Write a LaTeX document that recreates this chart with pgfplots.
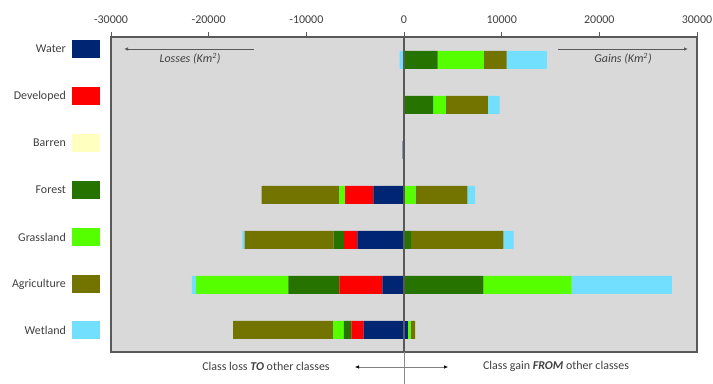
\documentclass[border=0pt]{standalone}
\usepackage{fontspec}
\setmainfont{Carlito}
\usepackage{pgfplots}
\pgfplotsset{compat=1.18}
\usetikzlibrary{arrows.meta}

\definecolor{cWater}{HTML}{002673}
\definecolor{cDeveloped}{HTML}{FF0000}
\definecolor{cBarren}{HTML}{FFFFC0}
\definecolor{cForest}{HTML}{267300}
\definecolor{cGrassland}{HTML}{55FF00}
\definecolor{cAgriculture}{HTML}{737300}
\definecolor{cWetland}{HTML}{73DFFF}
\definecolor{frame}{HTML}{595959}
\definecolor{panel}{HTML}{D9D9D9}
\definecolor{txt}{HTML}{404040}

% shared geometry of the two overlaid axes (gains / losses)
\pgfplotsset{
  lcbase/.style={
    at={(111bp,-352bp)}, anchor=south west,
    scale only axis, width=586bp, height=315bp,
    xmin=-30000, xmax=30000, ymin=0.51, ymax=7.51,
    xbar stacked, bar width=0.4,
  },
}

\begin{document}
\begin{tikzpicture}[font=\fontsize{12}{14}\selectfont]
\useasboundingbox (0,0) rectangle (713bp,-384bp);

% rows: 7 = Water, 6 = Developed, 5 = Barren, 4 = Forest,
%       3 = Grassland, 2 = Agriculture, 1 = Wetland
% ---------- gains (class gain FROM other classes) ----------
\begin{axis}[lcbase,
  axis background/.style={fill=panel},
  axis line style={draw=frame, line width=1.3bp},
  ytick=\empty,
  xtick={-30000,-20000,...,30000},
  scaled x ticks=false,
  xtick pos=right, xticklabel pos=right,
  tick align=outside, major tick length=5bp,
  tick style={draw=frame, line width=0.8bp},
  xticklabel style={text=txt, font=\fontsize{12}{14}\selectfont, yshift=5bp},
  /pgf/number format/set thousands separator={},
  /pgf/number format/assume math mode=true,
]
\addplot[fill=cWater, draw=none] coordinates
  {(0,7) (0,6) (0,5) (0,4) (0,3) (0,2) (400,1)};
\addplot[fill=cDeveloped, draw=none] coordinates
  {(0,7) (0,6) (0,5) (0,4) (0,3) (0,2) (0,1)};
\addplot[fill=cBarren, draw=none] coordinates
  {(0,7) (0,6) (0,5) (0,4) (0,3) (0,2) (0,1)};
\addplot[fill=cForest, draw=none] coordinates
  {(3450,7) (2970,6) (0,5) (0,4) (720,3) (8120,2) (0,1)};
\addplot[fill=cGrassland, draw=none] coordinates
  {(4740,7) (1330,6) (0,5) (1200,4) (0,3) (9050,2) (280,1)};
\addplot[fill=cAgriculture, draw=none] coordinates
  {(2320,7) (4300,6) (0,5) (5280,4) (9450,3) (0,2) (470,1)};
\addplot[fill=cWetland, draw=none] coordinates
  {(4130,7) (1200,6) (0,5) (790,4) (1060,3) (10270,2) (0,1)};
\end{axis}

% ---------- losses (class loss TO other classes) ----------
\begin{axis}[lcbase, hide axis, clip=false]
\addplot[fill=cWater, draw=none] coordinates
  {(0,7) (0,6) (-150,5) (-3140,4) (-4770,3) (-2220,2) (-4130,1)};
\addplot[fill=cDeveloped, draw=none] coordinates
  {(0,7) (0,6) (0,5) (-2900,4) (-1370,3) (-4400,2) (-1270,1)};
\addplot[fill=cBarren, draw=none] coordinates
  {(0,7) (0,6) (0,5) (0,4) (0,3) (0,2) (0,1)};
\addplot[fill=cForest, draw=none] coordinates
  {(0,7) (0,6) (0,5) (0,4) (-1060,3) (-5220,2) (-750,1)};
\addplot[fill=cGrassland, draw=none] coordinates
  {(0,7) (0,6) (0,5) (-580,4) (0,3) (-9480,2) (-1100,1)};
\addplot[fill=cAgriculture, draw=none] coordinates
  {(0,7) (0,6) (0,5) (-7950,4) (-9110,3) (0,2) (-10240,1)};
\addplot[fill=cWetland, draw=none] coordinates
  {(-450,7) (0,6) (0,5) (0,4) (-240,3) (-410,2) (0,1)};
\coordinate (ztop) at (axis cs:0,7.51);
\coordinate (zbot) at (axis cs:0,0.51);
\end{axis}

% zero line, continued below the panel
\draw[frame, line width=1.3bp] (ztop) -- (zbot);
\draw[frame!70, line width=0.7bp] (zbot) -- (zbot |- 0,-384bp);

% direction arrows inside the panel
\draw[frame, line width=0.8bp, -{Latex[length=4bp,width=3.5bp]}] (254bp,-49bp) -- (124bp,-49bp);
\node[text=txt] at (190bp,-59bp) {\textit{Losses (Km\textsuperscript{2})}};
\draw[frame, line width=0.8bp, -{Latex[length=4bp,width=3.5bp]}] (558bp,-49bp) -- (688bp,-49bp);
\node[text=txt] at (623bp,-59bp) {\textit{Gains (Km\textsuperscript{2})}};

% bottom captions
\node[text=txt] at (266bp,-366bp) {Class loss \textbf{\textit{TO}} other classes};
\node[text=txt] at (556bp,-366bp) {Class gain \textbf{\textit{FROM}} other classes};
\draw[gray, line width=0.6bp, {Latex[length=4bp,width=3.5bp,black]}-{Latex[length=4bp,width=3.5bp,black]}] (355bp,-367bp) -- (448bp,-367bp);

% class colour key
\foreach \name/\col/\yy in {Water/cWater/49, Developed/cDeveloped/96, Barren/cBarren/143,
  Forest/cForest/190, Grassland/cGrassland/237, Agriculture/cAgriculture/284, Wetland/cWetland/330} {
  \node[anchor=east, inner sep=0pt, text=txt] at ({66bp},{-\yy*1bp}) {\name};
  \fill[\col] ({72bp},{-\yy*1bp+9bp}) rectangle ({100bp},{-\yy*1bp-9bp});
}
\end{tikzpicture}
\end{document}
